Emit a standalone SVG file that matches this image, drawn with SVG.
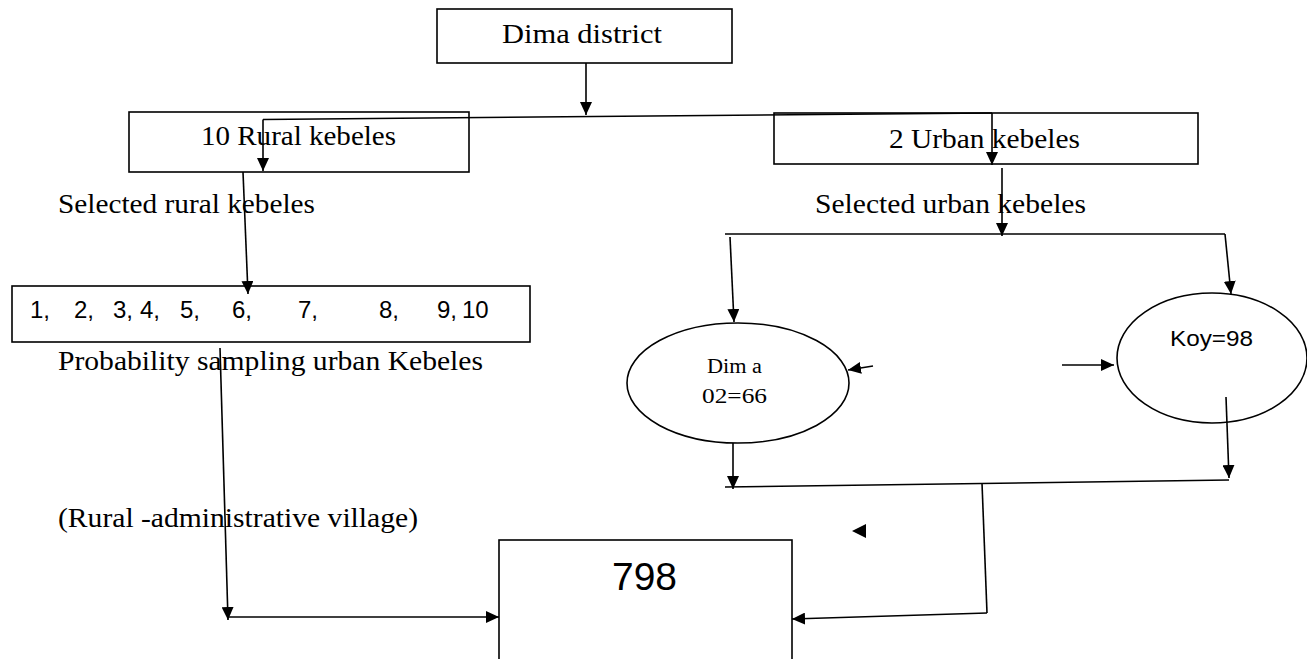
<svg xmlns="http://www.w3.org/2000/svg" width="1307" height="659" viewBox="0 0 1307 659">
<style>
.box{fill:#fff;stroke:#000;stroke-width:1.6}
.ser{font-family:"Liberation Serif","Times New Roman",serif;fill:#000}
.san{font-family:"Liberation Sans",Arial,sans-serif;fill:#000}
.ln{stroke:#000;stroke-width:1.6;fill:none}
.ar{marker-end:url(#ah)}
</style>
<defs>
<marker id="ah" markerUnits="userSpaceOnUse" markerWidth="14" markerHeight="12" refX="13" refY="6" orient="auto">
<path d="M0,0 L13,6 L0,12 Z" fill="#000"/>
</marker>
</defs>
<rect width="1307" height="659" fill="#fff"/>

<g id="dima-district">
<rect class="box" x="437" y="9" width="295" height="54"/>
<text class="ser" x="502" y="43" font-size="28" textLength="160" lengthAdjust="spacingAndGlyphs">Dima district</text>
</g>
<g id="rural-kebeles">
<rect class="box" x="129" y="112" width="340" height="60"/>
<text class="ser" x="201" y="145" font-size="27" textLength="195" lengthAdjust="spacingAndGlyphs">10 Rural kebeles</text>
</g>
<g id="urban-kebeles">
<rect class="box" x="774" y="113" width="424" height="51"/>
<text class="ser" x="889" y="148" font-size="28" textLength="191" lengthAdjust="spacingAndGlyphs">2 Urban kebeles</text>
</g>
<g id="selected-rural">
<text class="ser" x="58" y="213" font-size="27" textLength="257" lengthAdjust="spacingAndGlyphs">Selected rural kebeles</text>
</g>
<g id="selected-urban">
<text class="ser" x="815" y="213" font-size="27" textLength="271" lengthAdjust="spacingAndGlyphs">Selected urban kebeles</text>
</g>
<g id="numbers">
<rect class="box" x="12" y="286" width="518" height="56"/>
<text class="san" y="318" font-size="24"><tspan x="30">1,</tspan><tspan x="74">2,</tspan><tspan x="113">3,</tspan><tspan x="140">4,</tspan><tspan x="180">5,</tspan><tspan x="232">6,</tspan><tspan x="298">7,</tspan><tspan x="379">8,</tspan><tspan x="437">9,</tspan><tspan x="462">10</tspan></text>
</g>
<g id="probability">
<text class="ser" x="58" y="370" font-size="27" textLength="425" lengthAdjust="spacingAndGlyphs">Probability sampling urban Kebeles</text>
</g>
<g id="rural-admin">
<text class="ser" x="58" y="527" font-size="27" textLength="360" lengthAdjust="spacingAndGlyphs">(Rural -administrative village)</text>
</g>
<g id="dima-02">
<ellipse class="box" cx="738" cy="383" rx="111" ry="60"/>
<text class="ser" x="707" y="373" font-size="20" textLength="55" lengthAdjust="spacingAndGlyphs">Dim a</text>
<text class="ser" x="702" y="403" font-size="20" textLength="65" lengthAdjust="spacingAndGlyphs">02=66</text>
</g>
<g id="koy">
<ellipse class="box" cx="1212" cy="358" rx="95" ry="65"/>
<text class="san" x="1170" y="346" font-size="22" textLength="83" lengthAdjust="spacingAndGlyphs">Koy=98</text>
</g>
<g id="total-798">
<rect class="box" x="499" y="540" width="293" height="160"/>
<text class="san" x="612" y="590" font-size="38" textLength="65" lengthAdjust="spacingAndGlyphs">798</text>
</g>

<g id="connectors">
<line class="ln ar" x1="586" y1="63" x2="586" y2="115"/>
<line class="ln" x1="263" y1="119.5" x2="992" y2="113"/>
<line class="ln ar" x1="263" y1="119.5" x2="263" y2="171"/>
<line class="ln ar" x1="992" y1="113" x2="992" y2="165"/>
<line class="ln ar" x1="243" y1="172" x2="248" y2="294"/>
<line class="ln ar" x1="1002" y1="168" x2="1002" y2="236"/>
<line class="ln" x1="725" y1="234" x2="1225" y2="234"/>
<line class="ln ar" x1="730" y1="237" x2="734" y2="322"/>
<line class="ln ar" x1="1225" y1="234" x2="1231" y2="294"/>
<line class="ln ar" x1="873" y1="366" x2="848" y2="370"/>
<line class="ln ar" x1="1062" y1="365" x2="1114" y2="365"/>
<line class="ln ar" x1="733" y1="443" x2="733" y2="489"/>
<line class="ln ar" x1="1226" y1="397" x2="1229" y2="478"/>
<line class="ln" x1="725" y1="487" x2="1229" y2="480"/>
<line class="ln" x1="982" y1="483" x2="987" y2="613"/>
<line class="ln ar" x1="987" y1="613" x2="792" y2="619"/>
<line class="ln ar" x1="220" y1="348" x2="228" y2="620"/>
<line class="ln ar" x1="228" y1="617" x2="499" y2="617"/>
<polygon points="852,531 866,524 866,538" fill="#000"/>
</g>
</svg>
